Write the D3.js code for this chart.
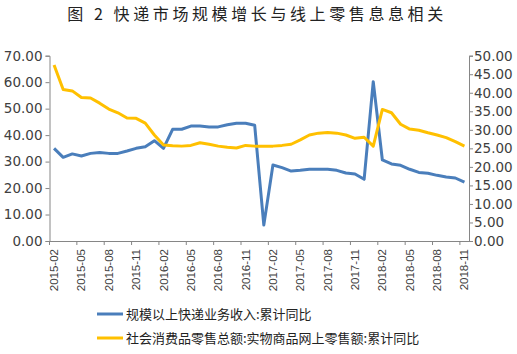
<!DOCTYPE html>
<html>
<head>
<meta charset="utf-8">
<script src="https://cdn.jsdelivr.net/npm/d3@7"></script>
<style>
  body { margin: 0; background: #fff; }
  svg { display: block; }
  .axis path, .axis line { stroke: #868686; }
  .axis text { fill: #404040; }
</style>
</head>
<body>
<div id="chart"></div>
<script>
// month categories (x axis)
const months = [
    "2015-02","2015-03","2015-04","2015-05","2015-06","2015-07","2015-08","2015-09","2015-10","2015-11","2015-12",
    "2016-01","2016-02","2016-03","2016-04","2016-05","2016-06","2016-07","2016-08","2016-09","2016-10","2016-11","2016-12",
    "2017-01","2017-02","2017-03","2017-04","2017-05","2017-06","2017-07","2017-08","2017-09","2017-10","2017-11","2017-12",
    "2018-01","2018-02","2018-03","2018-04","2018-05","2018-06","2018-07","2018-08","2018-09","2018-10","2018-11"
];

// 规模以上快递业务收入:累计同比 (left axis)
const expressRevenue = [
    35.0, 31.6, 32.9, 32.1, 33.1, 33.4, 33.1, 33.1, 34.0, 35.0, 35.6,
    37.9, 35.0, 42.2, 42.2, 43.4, 43.4, 43.1, 43.1, 43.9, 44.5, 44.5, 43.7,
    6.0, 28.7, 27.7, 26.4, 26.7, 27.1, 27.1, 27.1, 26.7, 25.7, 25.3, 23.3,
    60.2, 30.6, 29.1, 28.6, 27.1, 25.9, 25.6, 24.8, 24.2, 23.8, 22.2
];

// 社会消费品零售总额:实物商品网上零售额:累计同比 (right axis)
const onlineRetail = [
    47.5, 40.9, 40.5, 38.7, 38.6, 37.2, 35.6, 34.6, 33.2, 33.1, 31.8,
    28.6, 25.9, 25.7, 25.6, 25.8, 26.5, 26.1, 25.6, 25.3, 25.1, 25.8, 25.6,
    25.6, 25.6, 25.8, 26.1, 27.3, 28.6, 29.1, 29.3, 29.1, 28.6, 27.7, 28.0,
    25.6, 35.5, 34.6, 31.5, 30.2, 29.9, 29.2, 28.6, 27.9, 26.8, 25.6
];

const leftTicks = [0, 10, 20, 30, 40, 50, 60, 70];
const rightTicks = [0, 5, 10, 15, 20, 25, 30, 35, 40, 45, 50];
const seriesNames = ["规模以上快递业务收入:累计同比", "社会消费品零售总额:实物商品网上零售额:累计同比"];
const seriesColors = ["#4a7ebb", "#ffc000"];

const width = 517, height = 354;
const plot = {left: 49.5, right: 469, top: 55.7, bottom: 241};

const svg = d3.select("#chart").append("svg")
    .attr("width", width)
    .attr("height", height);

// title
svg.append("text")
    .attr("x", 257)
    .attr("y", 20)
    .attr("text-anchor", "middle")
    .style("font-family", "'Noto Sans CJK SC', sans-serif")
    .style("font-size", "16px")
    .style("letter-spacing", "3.6px")
    .style("fill", "#222")
    .text("图 2 快递市场规模增长与线上零售息息相关");

const x = d3.scaleBand()
    .domain(months)
    .range([plot.left, plot.right])
    .padding(0);

const yLeft = d3.scaleLinear().domain([0, 70]).range([plot.bottom, plot.top]);
const yRight = d3.scaleLinear().domain([0, 50]).range([plot.bottom, plot.top]);

// left axis
svg.append("g")
    .attr("class", "axis")
    .attr("transform", `translate(${plot.left},0)`)
    .call(d3.axisLeft(yLeft).tickValues(leftTicks).tickFormat(d3.format(".2f")).tickSize(4).tickPadding(3))
    .call(g => g.selectAll("text").style("font-family", "'DejaVu Sans', sans-serif").style("font-size", "13.5px"));

// right axis
svg.append("g")
    .attr("class", "axis")
    .attr("transform", `translate(${plot.right},0)`)
    .call(d3.axisRight(yRight).tickValues(rightTicks).tickFormat(d3.format(".2f")).tickSize(4).tickPadding(1))
    .call(g => g.selectAll("text").style("font-family", "'DejaVu Sans', sans-serif").style("font-size", "13.5px"));

// bottom axis: labels at every third month, tick marks between categories
const labelMonths = months.filter((m, i) => i % 3 === 0);
const xAxis = svg.append("g")
    .attr("class", "axis")
    .attr("transform", `translate(0,${plot.bottom})`)
    .call(d3.axisBottom(x).tickValues(labelMonths).tickSize(0).tickSizeOuter(0));

xAxis.selectAll(".tick text")
    .style("font-family", "'Liberation Sans', Arial, sans-serif")
    .style("font-size", "11.5px")
    .attr("text-anchor", "end")
    .attr("transform", "rotate(-90)")
    .attr("x", -8)
    .attr("y", 0)
    .attr("dy", "0.35em");

xAxis.selectAll(".tick-mark")
    .data(labelMonths)
    .enter()
    .append("line")
    .attr("class", "tick-mark")
    .attr("x1", d => x(d))
    .attr("x2", d => x(d))
    .attr("y1", 0)
    .attr("y2", 4)
    .attr("stroke", "#868686");

// lines
const lineLeft = d3.line()
    .x((d, i) => x(months[i]) + x.bandwidth() / 2)
    .y(d => yLeft(d));

const lineRight = d3.line()
    .x((d, i) => x(months[i]) + x.bandwidth() / 2)
    .y(d => yRight(d));

svg.append("path")
    .datum(expressRevenue)
    .attr("fill", "none")
    .attr("stroke", seriesColors[0])
    .attr("stroke-width", 3)
    .attr("stroke-linejoin", "round")
    .attr("d", lineLeft);

svg.append("path")
    .datum(onlineRetail)
    .attr("fill", "none")
    .attr("stroke", seriesColors[1])
    .attr("stroke-width", 3)
    .attr("stroke-linejoin", "round")
    .attr("d", lineRight);

// legend
const legend = svg.append("g").attr("transform", "translate(97,314)");
seriesNames.forEach((name, i) => {
    let row = legend.append("g").attr("transform", `translate(0,${i * 24})`);
    row.append("line")
        .attr("x1", 0).attr("x2", 26)
        .attr("y1", 0).attr("y2", 0)
        .attr("stroke", seriesColors[i])
        .attr("stroke-width", 3);
    row.append("text")
        .attr("x", 29)
        .attr("y", 5)
        .style("font-family", "'Noto Sans CJK SC', sans-serif")
        .style("font-size", "13px")
        .style("fill", "#222")
        .text(name);
});
</script>
</body>
</html>
